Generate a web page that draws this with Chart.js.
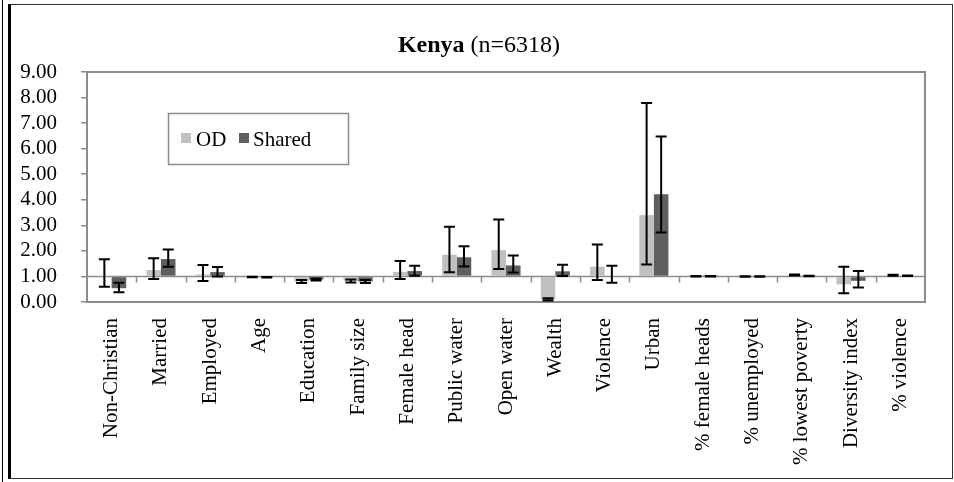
<!DOCTYPE html>
<html>
<head>
<meta charset="utf-8">
<script src="https://cdn.jsdelivr.net/npm/chart.js@4.4.1/dist/chart.umd.min.js"></script>
<style>
html, body { margin: 0; padding: 0; background: #fff; }
#wrap { position: relative; width: 954px; height: 482px; overflow: hidden; }
#outerLine { position: absolute; left: 2px; top: 0; width: 1px; height: 482px; background: #000; }
#frame { position: absolute; left: 8px; top: 4px; width: 941px; height: 473px; border: 1px solid #333; border-left: 3px solid #000; }
canvas { position: absolute; left: 0; top: 0; }
</style>
</head>
<body>
<div id="wrap">
  <div id="outerLine"></div>
  <div id="frame"></div>
  <canvas id="kenyaChart" width="954" height="482"></canvas>
</div>
<script>
// odds ratios, bars hang from 1.0
const categories = ['Non-Christian', 'Married', 'Employed', 'Age', 'Education', 'Family size',
    'Female head', 'Public water', 'Open water', 'Wealth', 'Violence', 'Urban',
    '% female heads', '% unemployed', '% lowest poverty', 'Diversity index', '% violence'];

const odValues = [0.99, 1.25, 1.08, 0.98, 0.80, 0.82, 1.18, 1.85, 2.03, 0.10, 1.38, 3.40, 1.01, 1.00, 1.06, 0.69, 1.05];
const odLow    = [0.60, 0.90, 0.82, 0.97, 0.74, 0.76, 0.90, 1.16, 1.29, 0.06, 0.86, 1.47, 1.00, 0.99, 1.04, 0.34, 1.03];
const odHigh   = [1.67, 1.71, 1.45, 0.99, 0.86, 0.88, 1.60, 2.94, 3.23, 0.15, 2.25, 7.79, 1.02, 1.01, 1.08, 1.38, 1.07];

const sharedValues = [0.54, 1.68, 1.17, 0.97, 0.88, 0.80, 1.21, 1.75, 1.43, 1.20, 1.03, 4.22, 1.01, 1.00, 1.02, 0.83, 1.03];
const sharedLow    = [0.38, 1.38, 1.00, 0.96, 0.84, 0.74, 1.03, 1.39, 1.15, 1.02, 0.75, 2.72, 1.00, 0.99, 1.01, 0.57, 1.02];
const sharedHigh   = [0.75, 2.05, 1.37, 0.98, 0.92, 0.86, 1.42, 2.18, 1.82, 1.46, 1.42, 6.48, 1.02, 1.01, 1.03, 1.21, 1.04];

const yTicks = [0, 1, 2, 3, 4, 5, 6, 7, 8, 9];

const serif = '"Liberation Serif", "Times New Roman", serif';
const axisGray = '#8c8c8c';

// plot frame, the 1.0 reference line and its category ticks
const framePlugin = {
    id: 'framePlugin',
    beforeDatasetsDraw(chart) {
        const { ctx, chartArea: a, scales } = chart;
        const y1 = scales.y.getPixelForValue(1);
        ctx.save();
        ctx.strokeStyle = axisGray;
        ctx.lineWidth = 2;
        ctx.strokeRect(a.left, a.top, a.right - a.left, a.bottom - a.top);
        ctx.beginPath();
        ctx.moveTo(a.left, y1);
        ctx.lineTo(a.right, y1);
        for (let i = 1; i < categories.length; i++) {
            const x = (scales.x.getPixelForValue(i - 1) + scales.x.getPixelForValue(i)) / 2;
            ctx.moveTo(Math.round(x) + 0.5, y1);
            ctx.lineTo(Math.round(x) + 0.5, y1 + 6);
        }
        ctx.lineWidth = 1.5;
        ctx.stroke();
        ctx.restore();
    }
};

// confidence interval whiskers
const errorBarPlugin = {
    id: 'errorBarPlugin',
    afterDatasetsDraw(chart) {
        const { ctx, scales } = chart;
        const lows = [odLow, sharedLow];
        const highs = [odHigh, sharedHigh];
        ctx.save();
        ctx.strokeStyle = '#000';
        ctx.lineWidth = 2;
        [0, 1].forEach(d => {
            const meta = chart.getDatasetMeta(d);
            meta.data.forEach((bar, i) => {
                const x = bar.x;
                const yLo = scales.y.getPixelForValue(lows[d][i]);
                const yHi = scales.y.getPixelForValue(highs[d][i]);
                ctx.beginPath();
                ctx.moveTo(x, yLo);
                ctx.lineTo(x, yHi);
                ctx.moveTo(x - 5.5, yLo);
                ctx.lineTo(x + 5.5, yLo);
                ctx.moveTo(x - 5.5, yHi);
                ctx.lineTo(x + 5.5, yHi);
                ctx.stroke();
            });
        });
        ctx.restore();
    }
};

// title with bold country name, and the boxed legend inside the plot
const textPlugin = {
    id: 'textPlugin',
    afterDraw(chart) {
        const ctx = chart.ctx;
        ctx.save();
        ctx.fillStyle = '#000';
        ctx.textBaseline = 'alphabetic';
        const boldFont = 'bold 24px ' + serif;
        const plainFont = '24px ' + serif;
        ctx.font = boldFont;
        const w1 = ctx.measureText('Kenya').width;
        ctx.font = plainFont;
        const w2 = ctx.measureText(' (n=6318)').width;
        const startX = 479 - (w1 + w2) / 2;
        ctx.font = boldFont;
        ctx.fillText('Kenya', startX, 52);
        ctx.font = plainFont;
        ctx.fillText(' (n=6318)', startX + w1, 52);

        // legend box
        ctx.strokeStyle = axisGray;
        ctx.lineWidth = 1.5;
        ctx.strokeRect(168.5, 113.5, 180, 51);
        ctx.font = '21px ' + serif;
        ctx.fillStyle = '#c0c0c0';
        ctx.fillRect(181, 133, 10, 10);
        ctx.fillStyle = '#000';
        ctx.fillText('OD', 196, 146);
        ctx.fillStyle = '#5f5f5f';
        ctx.fillRect(239, 133, 10, 10);
        ctx.fillStyle = '#000';
        ctx.fillText('Shared', 253, 146);
        ctx.restore();
    }
};

const ctx = document.getElementById('kenyaChart').getContext('2d');
const kenyaChart = new Chart(ctx, {
    type: 'bar',
    data: {
        labels: categories,
        datasets: [{
            label: 'OD',
            data: odValues,
            base: 1,
            backgroundColor: '#c0c0c0',
            borderWidth: 0
        }, {
            label: 'Shared',
            data: sharedValues,
            base: 1,
            backgroundColor: '#5f5f5f',
            borderWidth: 0
        }]
    },
    options: {
        responsive: false,
        animation: false,
        devicePixelRatio: 1,
        layout: { padding: { top: 72, left: 15, right: 29, bottom: 8 } },
        datasets: { bar: { categoryPercentage: 0.59, barPercentage: 1.0 } },
        plugins: {
            legend: { display: false },
            tooltip: { enabled: false }
        },
        scales: {
            x: {
                grid: { display: false },
                border: { display: false },
                ticks: {
                    autoSkip: false,
                    minRotation: 90,
                    maxRotation: 90,
                    padding: 8,
                    color: '#000',
                    font: { family: serif, size: 21 }
                },
                afterFit(scale) { scale.height = 172; }
            },
            y: {
                min: 0,
                max: 9,
                afterBuildTicks(scale) { scale.ticks = yTicks.map(v => ({ value: v })); },
                grid: { drawOnChartArea: false, drawTicks: true, tickLength: 6, color: axisGray, lineWidth: 1.5 },
                border: { display: false },
                ticks: {
                    autoSkip: false,
                    padding: 24,
                    color: '#000',
                    font: { family: serif, size: 21 },
                    callback: v => Number(v).toFixed(2)
                },
                afterFit(scale) { scale.width = 72; }
            }
        }
    },
    plugins: [framePlugin, errorBarPlugin, textPlugin]
});
</script>
</body>
</html>
